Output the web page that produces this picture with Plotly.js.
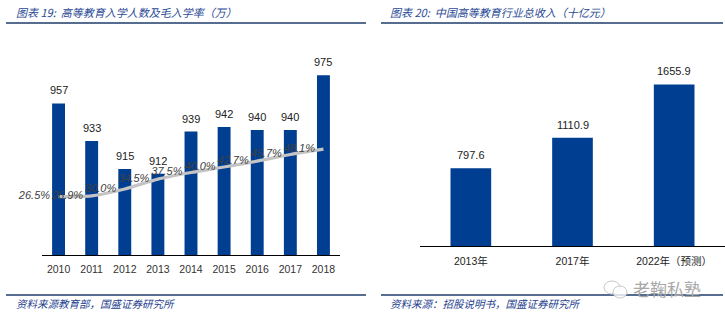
<!DOCTYPE html>
<html>
<head>
<meta charset="utf-8">
<script src="https://cdn.plot.ly/plotly-3.0.1.min.js"></script>
<style>html,body{margin:0;padding:0;background:#fff;}#chart{width:725px;height:322px;}</style>
</head>
<body>
<div id="chart"></div>
<script>
// ---- data ----
const years = ['2010','2011','2012','2013','2014','2015','2016','2017','2018'];
const enrollment = [957, 933, 915, 912, 939, 942, 940, 940, 975];
const grossRate = [26.5, 26.9, 30.0, 34.5, 37.5, 40.0, 42.7, 45.7, 48.1];
const revenueCats = ['2013年', '2017年', '2022年（预测）'];
const revenue = [797.6, 1110.9, 1655.9];

const title19 = '图表 19:  高等教育入学人数及毛入学率（万）';
const title20 = '图表 20:  中国高等教育行业总收入（十亿元）';
const source19 = '资料来源教育部，国盛证券研究所';
const source20 = '资料来源：招股说明书，国盛证券研究所';
const watermark = '老鞠私塾';

// ---- style ----
const W = 725, H = 322;
const barColor = '#003e92';
const numFont = 'Liberation Sans, Arial, Noto Sans CJK SC, sans-serif';
const cjkFont = 'Noto Sans CJK SC, sans-serif';
const px = v => v / W;
const py = v => (H - v) / H;

const traces = [
  {
    type: 'bar', x: years, y: enrollment, xaxis: 'x', yaxis: 'y',
    marker: {color: barColor}, width: 0.39, hoverinfo: 'none'
  },
  {
    type: 'scatter', mode: 'lines+markers+text', x: years, y: grossRate, xaxis: 'x', yaxis: 'y2',
    line: {color: '#c4c4c4', width: 3.2, shape: 'spline', smoothing: 0.6},
    marker: {size: 12, color: 'rgba(0,0,0,0)'},
    text: grossRate.map(v => v.toFixed(1) + '%'),
    textposition: 'middle left',
    textfont: {family: numFont, size: 11, color: '#404040', style: 'italic'},
    cliponaxis: false, hoverinfo: 'none'
  },
  {
    type: 'bar', x: revenueCats, y: revenue, xaxis: 'x2', yaxis: 'y3',
    marker: {color: barColor}, width: 0.4, hoverinfo: 'none'
  }
];

const annotations = [];
enrollment.forEach((v, i) => annotations.push({
  xref: 'x', yref: 'y', x: i, y: v, yanchor: 'bottom', yshift: 5,
  text: String(v), showarrow: false,
  font: {family: numFont, size: 11, color: '#222'}
}));
revenue.forEach((v, i) => annotations.push({
  xref: 'x2', yref: 'y3', x: i, y: v, yanchor: 'bottom', yshift: 5,
  text: v.toFixed(1), showarrow: false,
  font: {family: numFont, size: 11, color: '#222'}
}));
[[title19, 14], [title20, 388]].forEach(([t, x]) => annotations.push({
  xref: 'paper', yref: 'paper', x: px(x), y: py(12), xanchor: 'left', yanchor: 'middle',
  text: t, showarrow: false,
  font: {family: cjkFont, size: 11, color: '#2a4a96', style: 'italic'}
}));
[[source19, 14], [source20, 388]].forEach(([t, x]) => annotations.push({
  xref: 'paper', yref: 'paper', x: px(x), y: py(303), xanchor: 'left', yanchor: 'middle',
  text: t, showarrow: false,
  font: {family: cjkFont, size: 10.5, color: '#1f3f8f', style: 'italic'}
}));
annotations.push({
  xref: 'paper', yref: 'paper', x: px(667), y: py(288), xanchor: 'center', yanchor: 'middle',
  text: watermark, showarrow: false,
  font: {family: cjkFont, size: 17, color: '#a8a8a8'}
});

const lineColor = '#1f3d6b';
const shapes = [];
[[23, 6, 366], [23, 381, 723], [295, 6, 366], [295, 381, 723]].forEach(([y, x0, x1]) => shapes.push({
  type: 'line', xref: 'paper', yref: 'paper', x0: px(x0), x1: px(x1), y0: py(y), y1: py(y),
  line: {color: lineColor, width: 1.5}
}));
shapes.push({type: 'circle', xref: 'paper', yref: 'paper', x0: px(604), x1: px(620), y0: py(294), y1: py(281), line: {color: '#c8c8c8', width: 1}});
shapes.push({type: 'circle', xref: 'paper', yref: 'paper', x0: px(613), x1: px(627), y0: py(298), y1: py(286), line: {color: '#c8c8c8', width: 1}, fillcolor: 'rgba(255,255,255,0.8)'});

const axisFont = {family: numFont, size: 10.5, color: '#333'};
const layout = {
  width: W, height: H,
  margin: {l: 0, r: 0, t: 0, b: 0},
  paper_bgcolor: '#fff', plot_bgcolor: 'rgba(0,0,0,0)',
  showlegend: false,
  xaxis: {domain: [px(42), px(340)], anchor: 'y', type: 'category', categoryorder: 'array', categoryarray: years,
          range: [-0.5, years.length - 0.5],
          showline: true, linecolor: '#000', linewidth: 1,
          showgrid: false, zeroline: false, ticks: '', tickfont: axisFont, ticklabelstandoff: 4},
  yaxis: {domain: [py(255), py(35)], anchor: 'x', range: [860, 1000.8], visible: false, showgrid: false, zeroline: false},
  yaxis2: {overlaying: 'y', anchor: 'x', side: 'right', range: [0, 100], visible: false, showgrid: false, zeroline: false},
  xaxis2: {domain: [px(420), 1], anchor: 'y3', type: 'category', categoryorder: 'array', categoryarray: revenueCats,
           range: [-0.5, revenueCats.length - 0.5],
           showline: true, linecolor: '#000', linewidth: 1,
           showgrid: false, zeroline: false, ticks: '', tickfont: {family: numFont, size: 10.5, color: '#222'}, ticklabelstandoff: 5},
  yaxis3: {domain: [py(246), py(35)], anchor: 'x2', range: [0, 2163], visible: false, showgrid: false, zeroline: false},
  annotations: annotations,
  shapes: shapes
};

Plotly.newPlot('chart', traces, layout, {displayModeBar: false, staticPlot: true});
</script>
</body>
</html>
